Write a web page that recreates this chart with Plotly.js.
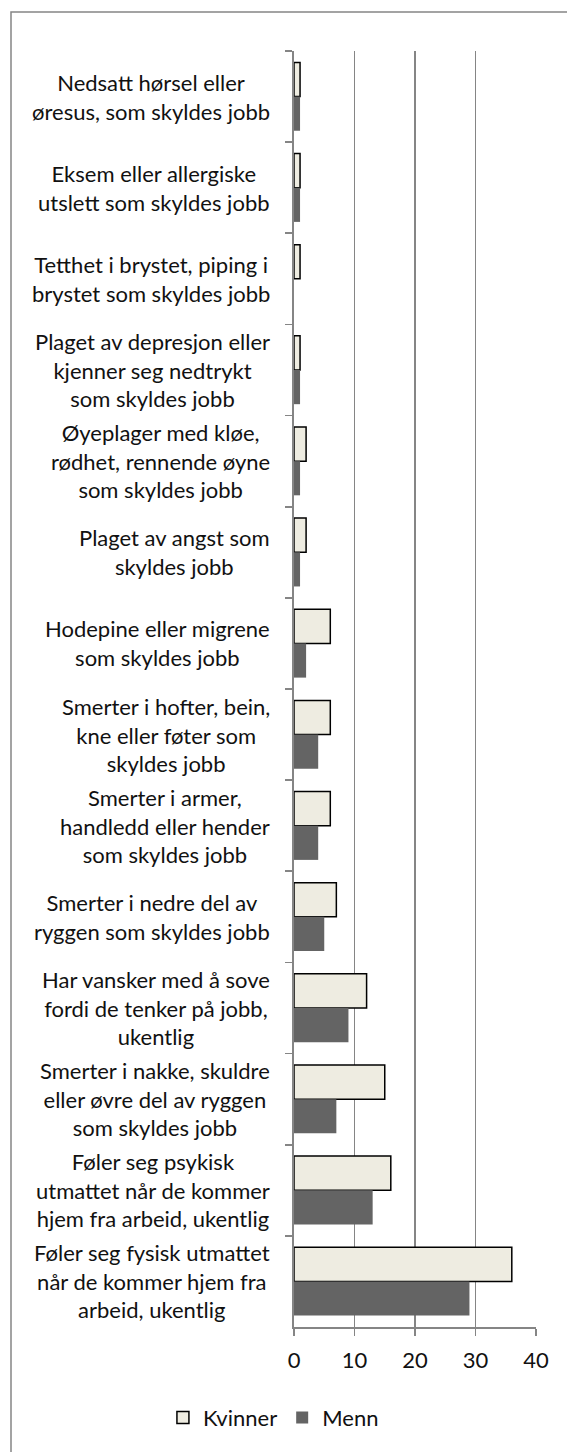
<!DOCTYPE html>
<html>
<head>
<meta charset="utf-8">
<script src="https://cdn.plot.ly/plotly-3.0.1.min.js"></script>
<style>
  html, body { margin: 0; padding: 0; background: #fff; }
  #chart { width: 567px; height: 1452px; }
</style>
</head>
<body>
<div id="chart"></div>
<script>
// ---- data ----
const categories = [
  "Nedsatt hørsel eller<br>øresus, som skyldes jobb",
  "Eksem eller allergiske<br>utslett som skyldes jobb",
  "Tetthet i brystet, piping i<br>brystet som skyldes jobb",
  "Plaget av depresjon eller<br>kjenner seg nedtrykt<br>som skyldes jobb",
  "Øyeplager med kløe,<br>rødhet, rennende øyne<br>som skyldes jobb",
  "Plaget av angst som<br>skyldes jobb",
  "Hodepine eller migrene<br>som skyldes jobb",
  "Smerter i hofter, bein,<br>kne eller føter som<br>skyldes jobb",
  "Smerter i armer,<br>handledd eller hender<br>som skyldes jobb",
  "Smerter i nedre del av<br>ryggen som skyldes jobb",
  "Har vansker med å sove<br>fordi de tenker på jobb,<br>ukentlig",
  "Smerter i nakke, skuldre<br>eller øvre del av ryggen<br>som skyldes jobb",
  "Føler seg psykisk<br>utmattet når de kommer<br>hjem fra arbeid, ukentlig",
  "Føler seg fysisk utmattet<br>når de kommer hjem fra<br>arbeid, ukentlig"
];
const kvinner = [1, 1, 1, 1, 2, 2, 6, 6, 6, 7, 12, 15, 16, 36];
const menn    = [1, 1, 0, 1, 1, 1, 2, 4, 4, 5, 9, 7, 13, 29];
const seriesNames = ["Kvinner", "Menn"];
const xTicks = [0, 10, 20, 30, 40];

// ---- styling ----
const FONT = "Lato, 'Open Sans', sans-serif";
const GRID = "#858585";

const traces = [
  {
    type: "bar", orientation: "h", name: seriesNames[0],
    y: categories, x: kvinner,
    marker: { color: "#EEECE1", line: { color: "#000000", width: 1.5 } },
    hoverinfo: "x+name"
  },
  {
    type: "bar", orientation: "h", name: seriesNames[1],
    y: categories, x: menn,
    marker: { color: "#646464", line: { width: 0 } },
    hoverinfo: "x+name"
  }
];

const annotations = categories.map(c => ({
  xref: "paper", yref: "y", x: 0, y: c,
  xanchor: "right", yanchor: "middle", xshift: -22,
  align: "center", showarrow: false, text: c,
  font: { family: FONT, size: 22, color: "#111" }
}));

const layout = {
  width: 567, height: 1452,
  margin: { l: 294, r: 31, t: 51, b: 125, pad: 0 },
  paper_bgcolor: "#ffffff", plot_bgcolor: "#ffffff",
  barmode: "group", bargap: 0.25, bargroupgap: 0,
  showlegend: true,
  legend: {
    orientation: "h", x: -0.085, xanchor: "center", y: -0.071, yanchor: "middle",
    font: { family: FONT, size: 22, color: "#111" },
    itemwidth: 30, tracegroupgap: 0
  },
  xaxis: {
    range: [0, 40], tickvals: xTicks, ticktext: xTicks.map(String),
    showgrid: true, gridcolor: GRID, gridwidth: 1.7,
    zeroline: false, showline: true, linecolor: GRID, linewidth: 1.7,
    ticks: "outside", ticklen: 7, tickcolor: GRID, tickwidth: 1.7,
    ticklabelstandoff: 6,
    tickfont: { family: FONT, size: 22, color: "#111" },
    fixedrange: true
  },
  yaxis: {
    type: "category", autorange: "reversed",
    showticklabels: false, showgrid: false, zeroline: false,
    showline: true, linecolor: GRID, linewidth: 1.7,
    ticks: "outside", tickson: "boundaries", ticklen: 7, tickcolor: GRID, tickwidth: 1.7,
    fixedrange: true
  },
  annotations: annotations,
  shapes: [{
    type: "rect", xref: "paper", yref: "paper", layer: "below",
    x0: (11 - 294) / 242, x1: (580 - 294) / 242,
    y0: (1327 - 1470) / 1276, y1: (1327 - 12) / 1276,
    line: { color: GRID, width: 1.5 }, fillcolor: "rgba(0,0,0,0)"
  }]
};

Plotly.newPlot("chart", traces, layout, { displayModeBar: false, staticPlot: true });
</script>
</body>
</html>
